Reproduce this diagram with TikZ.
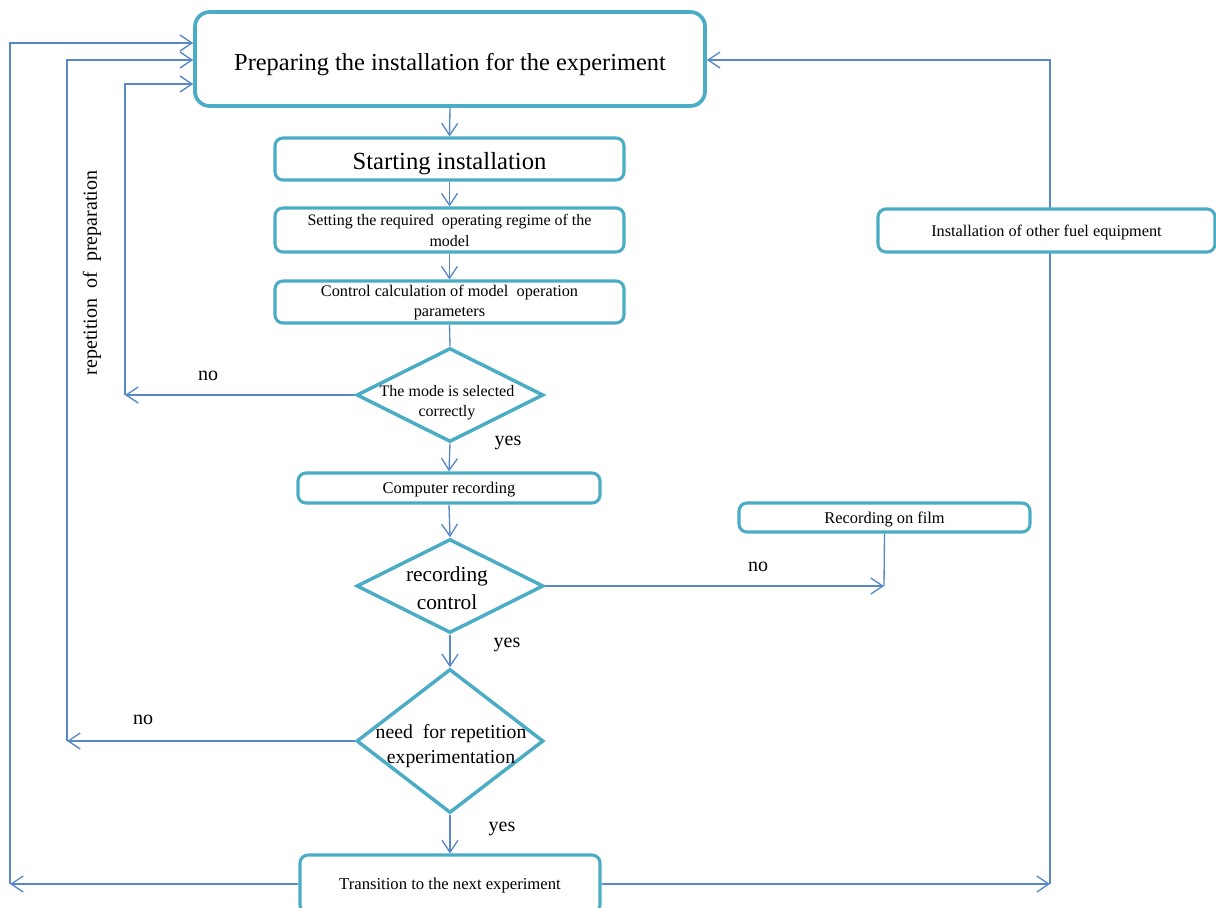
\documentclass[tikz,border=0pt]{standalone}
\usepackage{fontspec}
\setmainfont{Liberation Serif}
\usetikzlibrary{arrows.meta,shapes.geometric,backgrounds}
\definecolor{boxc}{RGB}{75,172,198}
\definecolor{linec}{RGB}{88,136,200}
\newcommand{\fs}[2]{\fontsize{#1pt}{#2pt}\selectfont}
\begin{document}
\begin{tikzpicture}[x=0.75pt,y=-0.75pt,
  box/.style={draw=boxc,line width=2.3pt,rounded corners=6pt,fill=white,inner sep=0pt,align=center},
  dia/.style={draw=boxc,line width=2.6pt,diamond,fill=white,inner sep=0pt},
  arr/.style={draw=linec,line width=1pt,-{Straight Barb[length=9pt,width=12pt,line width=1pt]}},
  ln/.style={draw=linec,line width=1pt},
  th/.style={text height=#1,text depth=0pt},
  lab/.style={inner sep=0pt,font=\fs{15}{18}}]
\clip (0,0) rectangle (1216,907);
\useasboundingbox (0,0) rectangle (1216,907);
% nodes
\node[box,rounded corners=11pt,line width=2.8pt,minimum width={510*0.75pt},minimum height={94*0.75pt},font=\fs{18.3}{22},th=17.6pt] (top) at (450,59) {Preparing the installation for the experiment};
\node[box,minimum width={349*0.75pt},minimum height={42*0.75pt},font=\fs{18.5}{22},th=16pt] (start) at (449.5,159) {Starting installation};
\node[box,minimum width={349*0.75pt},minimum height={44*0.75pt},font=\fs{12}{15.75}] (set) at (449.5,230) {Setting the required \ operating regime of the\\model};
\node[box,minimum width={349*0.75pt},minimum height={42*0.75pt},font=\fs{12.2}{15}] (ctrl) at (449.5,302) {Control calculation of model \ operation\\parameters};
\node[dia,minimum width={187*0.75pt},minimum height={94*0.75pt}] (d1) at (450,395) {};
\node[align=center,inner sep=0pt,font=\fs{12}{15}] (d1t) at (447,403) {The mode is selected\\correctly};
\node[box,minimum width={302*0.75pt},minimum height={30*0.75pt},font=\fs{12.3}{15},th=8.8pt] (comp) at (449,488) {Computer recording};
\node[dia,minimum width={187*0.75pt},minimum height={94*0.75pt}] (d2) at (450,586) {};
\node[align=center,inner sep=0pt,font=\fs{16}{21}] (d2t) at (447,588) {recording\\control};
\node[dia,minimum width={187*0.75pt},minimum height={144*0.75pt}] (d3) at (450,741) {};
\node[align=center,inner sep=0pt,font=\fs{14.8}{18.75}] (d3t) at (451,746) {need \ for repetition\\experimentation};
\node[box,minimum width={300*0.75pt},minimum height={58*0.75pt},font=\fs{12.5}{15},th=8.8pt] (trans) at (450,884) {Transition to the next experiment};
\node[box,minimum width={291*0.75pt},minimum height={29*0.75pt},font=\fs{12.3}{15},th=8.8pt] (film) at (884.5,517.5) {Recording on film};
\node[box,minimum width={337*0.75pt},minimum height={43*0.75pt},font=\fs{12.2}{15},th=8.8pt] (other) at (1046.5,230.5) {Installation of other fuel equipment};
% coordinates
\coordinate (L1a) at (125,395);
\coordinate (L1b) at (125,84);
\coordinate (L2a) at (67,741);
\coordinate (L2b) at (67,60);
\coordinate (L3a) at (10,884);
\coordinate (L3b) at (10,43);
\coordinate (R1) at (1050,884);
\coordinate (R2) at (1050,60);
\coordinate (F) at (884,586);
\begin{scope}[on background layer]
\draw[arr] (top.south) -- (start.north);
\draw[arr] (start.south) -- (set.north);
\draw[arr] (set.south) -- (ctrl.north);
\draw[ln] (ctrl.south) -- (d1.north);
\draw[arr] (d1.south) -- (comp.north);
\draw[arr] (comp.south) -- (d2.north);
\draw[arr] (d2.south) -- (d3.north);
\draw[arr] (d3.south) -- (trans.north);
\draw[arr] (d1.west) -- (L1a);
\draw[arr] (L1a) -- (L1b) -- (L1b -| top.west);
\draw[arr] (d3.west) -- (L2a);
\draw[arr] (L2a) -- (L2b) -- (L2b -| top.west);
\draw[arr] (trans.west) -- (L3a);
\draw[arr] (L3a) -- (L3b) -- (L3b -| top.west);
\draw[arr] (trans.east) -- (R1);
\draw[arr] (R1) -- (R2) -- (R2 -| top.east);
\draw[arr] (d2.east) -- (F);
\draw[ln] (film.south) -- (F);
\end{scope}
% labels
\node[lab] (n1) at (208,376) {no};
\node[lab] (y1) at (508,443) {yes};
\node[lab] (n2) at (758,567) {no};
\node[lab] (y2) at (507,645) {yes};
\node[lab] (n3) at (143,720) {no};
\node[lab] (y3) at (502,829) {yes};
\node[lab,rotate=90] (rep) at (92,273) {repetition \ of \ preparation};
\end{tikzpicture}
\end{document}
